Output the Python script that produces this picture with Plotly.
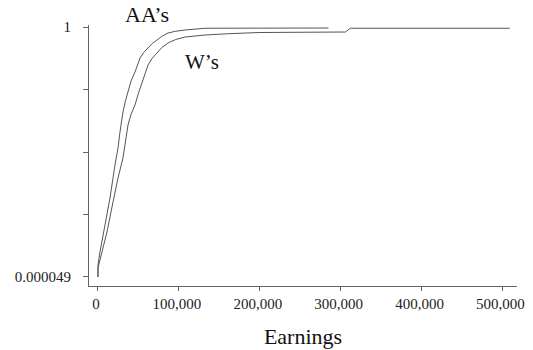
import plotly.graph_objects as go

# AA's cumulative distribution (earnings, cumulative share)
aa_x = [0, 0, 2475, 8660, 14850, 21000, 24750, 27200, 30900, 34000, 37100, 41000, 45800, 52000,
        56500, 61900, 67000, 73000, 79000, 86600, 96000, 107700, 120000, 132400, 285000]
aa_y = [0.000049, 0.048, 0.10, 0.208, 0.316, 0.448, 0.516, 0.58, 0.66, 0.705, 0.74, 0.785, 0.82, 0.876,
        0.898, 0.916, 0.934, 0.948, 0.963, 0.976, 0.983, 0.988, 0.992, 0.995, 0.996]

# W's cumulative distribution
w_x = [0, 0, 4950, 11100, 18600, 24750, 30900, 33400, 37100, 41000, 45800, 50000, 54500, 58000,
       61900, 67000, 73000, 79000, 86600, 96000, 107700, 120000, 132400, 160000, 200000, 306000,
       309000, 312000, 509000]
w_y = [0.000049, 0.036, 0.10, 0.18, 0.30, 0.396, 0.476, 0.528, 0.608, 0.652, 0.688, 0.735, 0.78, 0.815,
       0.848, 0.875, 0.896, 0.918, 0.936, 0.95, 0.96, 0.965, 0.968, 0.973, 0.978, 0.98,
       0.988, 0.995, 0.995]

x_ticks = [0, 100000, 200000, 300000, 400000, 500000]
x_tick_text = ["0", "100,000", "200,000", "300,000", "400,000", "500,000"]
y_ticks = [0.000049, 0.25, 0.5, 0.75, 1]
y_tick_text = ["0.000049", "", "", "", "1"]

line_color = "#555555"
font_family = "Liberation Serif"

fig = go.Figure()
fig.add_trace(go.Scatter(x=aa_x, y=aa_y, mode="lines", name="AA's",
                         line=dict(color=line_color, width=1)))
fig.add_trace(go.Scatter(x=w_x, y=w_y, mode="lines", name="W's",
                         line=dict(color=line_color, width=1)))

fig.add_annotation(x=60600, y=1.04, xref="x", yref="paper", yanchor="middle",
                   text="AA’s", showarrow=False,
                   font=dict(family=font_family, size=22, color="#111"))
fig.add_annotation(x=128700, y=0.86, yanchor="middle", text="W’s", showarrow=False,
                   font=dict(family=font_family, size=21, color="#111"))

fig.update_layout(
    width=533, height=350,
    margin=dict(l=89, r=16, t=25, b=64, autoexpand=False),
    paper_bgcolor="white", plot_bgcolor="white",
    showlegend=False,
    font=dict(family=font_family, size=15, color="#222"),
)
fig.update_xaxes(
    range=[-11100, 518000], tickvals=x_ticks, ticktext=x_tick_text, automargin=False,
    showgrid=False, zeroline=False, showline=True, linecolor="#666", linewidth=1,
    ticks="outside", ticklen=4, tickcolor="#666", ticklabelstandoff=0, ticklabelshift=-2,
    title=dict(text="Earnings", font=dict(family=font_family, size=22, color="#111"), standoff=17),
)
fig.update_yaxes(
    range=[-0.036, 1.008], tickvals=y_ticks, ticktext=y_tick_text, automargin=False,
    showgrid=False, zeroline=False, showline=True, linecolor="#666", linewidth=1,
    ticks="outside", ticklen=5, tickcolor="#666", ticklabelstandoff=9,
)

fig.write_html("out.html", config={"displayModeBar": False},
               post_script="document.body.style.margin='0';document.body.style.overflow='hidden';")
